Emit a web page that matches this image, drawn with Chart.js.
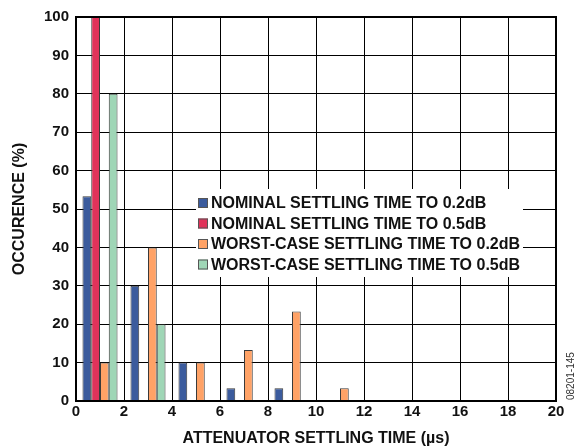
<!DOCTYPE html>
<html>
<head>
<meta charset="utf-8">
<script src="https://cdn.jsdelivr.net/npm/chart.js@4.4.0/dist/chart.umd.min.js"></script>
<style>
  html, body { margin: 0; padding: 0; background: #fff; }
  #wrap { width: 579px; height: 448px; position: relative; }
</style>
</head>
<body>
<div id="wrap"><canvas id="myChart" width="579" height="448"></canvas></div>
<script>
// bins of 2 us each, 0..20
const bins = ['0-2', '2-4', '4-6', '6-8', '8-10', '10-12', '12-14', '14-16', '16-18', '18-20']
const xTicks = [0, 2, 4, 6, 8, 10, 12, 14, 16, 18, 20]

const nominal02 = [53.3, 30, 10, 3.3, 3.3, null, null, null, null, null]
const nominal05 = [100, null, null, null, null, null, null, null, null, null]
const worst02 = [10, 40, 10, 13.3, 23.3, 3.3, null, null, null, null]
const worst05 = [80, 20, null, null, null, null, null, null, null, null]

const seriesNames = [
    'NOMINAL SETTLING TIME TO 0.2dB',
    'NOMINAL SETTLING TIME TO 0.5dB',
    'WORST-CASE SETTLING TIME TO 0.2dB',
    'WORST-CASE SETTLING TIME TO 0.5dB'
]
const seriesColors = ['#3b5b9d', '#e0335a', '#ffa266', '#9fd6b6']

const FONT = "'Liberation Sans', Arial, sans-serif"

function makeSet(i, values) {
    return {
        label: seriesNames[i],
        data: values,
        backgroundColor: seriesColors[i],
        borderColor: '#3a3a3a',
        borderWidth: 1,
        borderSkipped: 'bottom',
        barPercentage: 1.0,
        categoryPercentage: 0.73
    }
}

// legend sits inside the plot, over the grid
const boxLegend = {
    id: 'boxLegend',
    afterDatasetsDraw(chart) {
        const ctx = chart.ctx
        const area = chart.chartArea
        ctx.save()
        // frame around plot
        ctx.strokeStyle = '#000'
        ctx.lineWidth = 2
        ctx.strokeRect(area.left, area.top, area.right - area.left, area.bottom - area.top)

        ctx.fillStyle = '#fff'
        ctx.fillRect(196, 189, 327, 88)
        ctx.font = 'bold 16px ' + FONT
        ctx.textBaseline = 'middle'
        ctx.textAlign = 'left'
        chart.data.datasets.forEach((ds, i) => {
            const y = 203 + i * 20.5
            ctx.fillStyle = ds.backgroundColor
            ctx.fillRect(198, y - 5, 10, 10)
            ctx.strokeStyle = '#555'
            ctx.lineWidth = 1
            ctx.strokeRect(198.5, y - 4.5, 9, 9)
            ctx.fillStyle = '#111'
            ctx.fillText(ds.label, 211, y + 1)
        })

        // figure id on right edge
        ctx.translate(571, 400)
        ctx.rotate(-Math.PI / 2)
        ctx.font = '10px ' + FONT
        ctx.fillStyle = '#333'
        ctx.textAlign = 'left'
        ctx.fillText('08201-145', 0, 0)
        ctx.restore()
    }
}

new Chart(document.getElementById('myChart'), {
    type: 'bar',
    data: {
        labels: bins,
        datasets: [
            makeSet(0, nominal02),
            makeSet(1, nominal05),
            makeSet(2, worst02),
            makeSet(3, worst05)
        ]
    },
    options: {
        responsive: false,
        animation: false,
        layout: { padding: { left: 0, top: 17, right: 23, bottom: 0 } },
        plugins: {
            legend: { display: false },
            tooltip: { enabled: false }
        },
        scales: {
            x: { display: false },
            x2: {
                type: 'linear',
                position: 'bottom',
                offset: false,
                min: 0,
                max: 20,
                afterBuildTicks: (scale) => { scale.ticks = xTicks.map(v => ({ value: v })) },
                afterFit: (scale) => { scale.height = 47 },
                grid: { color: '#000', lineWidth: 1, drawTicks: false, offset: false },
                border: { color: '#000', width: 2 },
                ticks: { color: '#111', font: { family: FONT, size: 15, weight: 'bold' }, padding: 2, maxRotation: 0 },
                title: {
                    display: true,
                    text: 'ATTENUATOR SETTLING TIME (µs)',
                    color: '#111',
                    font: { family: FONT, size: 16, weight: 'bold' },
                    padding: { top: 2, bottom: 0 }
                }
            },
            y: {
                min: 0,
                max: 100,
                afterFit: (scale) => { scale.width = 76 },
                grid: { color: '#000', lineWidth: 1, drawTicks: false },
                border: { color: '#000', width: 2 },
                ticks: { stepSize: 10, color: '#111', font: { family: FONT, size: 15, weight: 'bold' }, padding: 7 },
                title: {
                    display: true,
                    text: 'OCCURENCE (%)',
                    color: '#111',
                    font: { family: FONT, size: 16, weight: 'bold' },
                    padding: { top: 10, bottom: 0 }
                }
            }
        }
    },
    plugins: [boxLegend]
})
</script>
</body>
</html>
